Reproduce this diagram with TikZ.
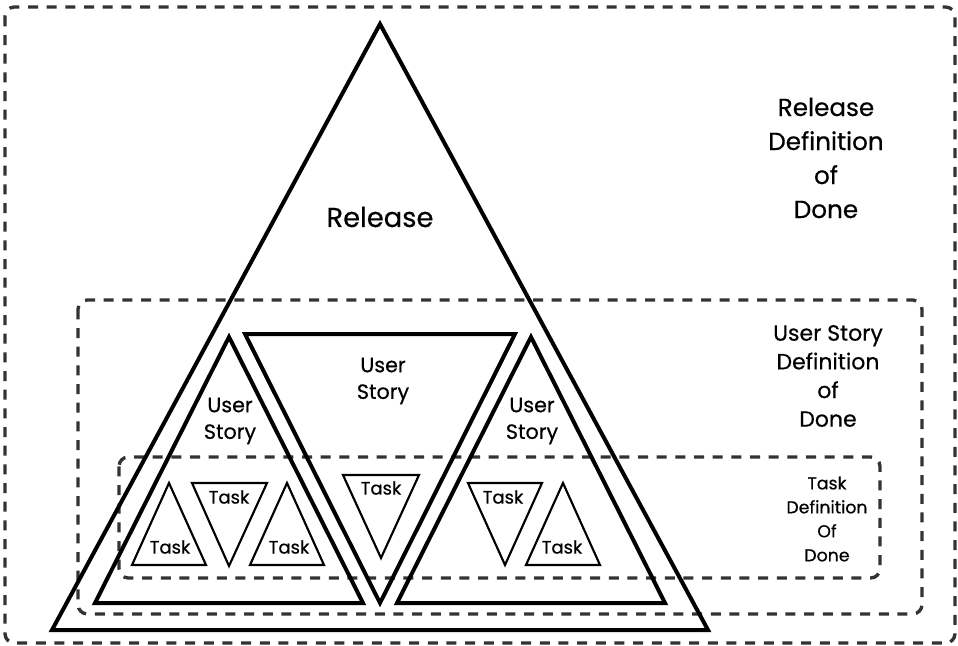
\documentclass[tikz,border=0pt]{standalone}
\usepackage{fontspec}
\setmainfont{Poppins}[FakeBold=0.5]
\definecolor{dashgray}{HTML}{333333}
\begin{document}
\begin{tikzpicture}[x=0.75pt,y=-0.75pt,
  dodbox/.style={draw=dashgray, line width=2.5pt, dash pattern=on 7.5pt off 6.5pt, rounded corners=7pt},
  bigtri/.style={draw=black, line width=3pt, line join=miter},
  tasktri/.style={draw=black, line width=1.6pt, line join=miter},
  lbl/.style={align=center, inner sep=0pt, text=black},
  bigtext/.style={lbl, font=\fontsize{20.5}{25.5}\selectfont},
  doctext/.style={lbl, font=\fontsize{18.5}{25.5}\selectfont},
  midtext/.style={lbl, font=\fontsize{16.5}{21.5}\selectfont},
  storytext/.style={lbl, font=\fontsize{15.5}{20}\selectfont},
  smalltext/.style={lbl, font=\fontsize{13}{18}\selectfont},
  tasktext/.style={lbl, font=\fontsize{13.5}{18}\selectfont}]
\useasboundingbox (0,0) rectangle (958,646);

% definition-of-done frames
\draw[dodbox] (5,7) rectangle (955,643);
\draw[dodbox] (78,300) rectangle (922,614);
\draw[dodbox] (119,457) rectangle (880,578);

% release triangle
\draw[bigtri] (380,24) -- (708,630) -- (52,630) -- cycle;

% user story triangles
\draw[bigtri] (229,337) -- (363,603) -- (95,603) -- cycle;
\draw[bigtri] (245,334) -- (515,334) -- (380,603) -- cycle;
\draw[bigtri] (531,337) -- (665,603) -- (397,603) -- cycle;

% task triangles
\draw[tasktri] (169,483) -- (206,565) -- (132,565) -- cycle;
\draw[tasktri] (192,483) -- (267,483) -- (229,566) -- cycle;
\draw[tasktri] (287,483) -- (324,565) -- (250,565) -- cycle;
\draw[tasktri] (343,475) -- (419,475) -- (381,558) -- cycle;
\draw[tasktri] (468,483) -- (542,483) -- (505,565) -- cycle;
\draw[tasktri] (563,483) -- (600,565) -- (526,565) -- cycle;

% labels
\node[bigtext] (release) at (380,217) {Release};
\node[doctext] (releasedod) at (826,158) {Release\\Definition\\of\\Done};
\node[midtext] (storydod) at (828,376) {User Story\\Definition\\of\\Done};
\node[smalltext] (taskdod) at (827,519) {Task\\Definition\\Of\\Done};

\node[storytext] (storyl) at (230,421) {User\\Story};
\node[storytext] (storym) at (383,381) {User\\Story};
\node[storytext] (storyr) at (532,421) {User\\Story};

\node[tasktext] (taskl1) at (170,547) {Task};
\node[tasktext] (taskl2) at (229,497) {Task};
\node[tasktext] (taskl3) at (289,547) {Task};
\node[tasktext] (taskm) at (381,488) {Task};
\node[tasktext] (taskr1) at (503,497) {Task};
\node[tasktext] (taskr2) at (562,547) {Task};
\end{tikzpicture}
\end{document}
